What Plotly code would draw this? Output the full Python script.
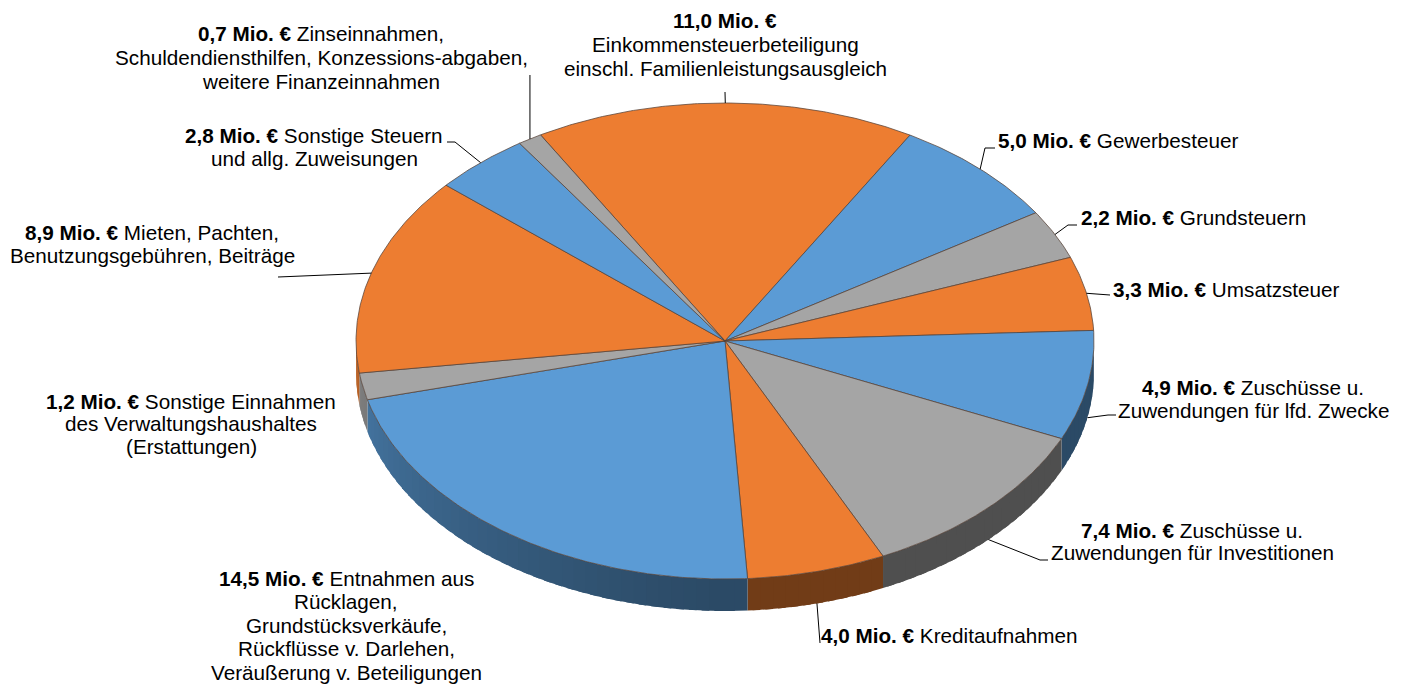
import numpy as np
import plotly.graph_objects as go

# ---------------- data ----------------
values = [11.0, 5.0, 2.2, 3.3, 4.9, 7.4, 4.0, 14.5, 1.2, 8.9, 2.8, 0.7]
descriptions = [
    ["", "Einkommensteuerbeteiligung", "einschl. Familienleistungsausgleich"],
    ["Gewerbesteuer"],
    ["Grundsteuern"],
    ["Umsatzsteuer"],
    ["Zuschüsse u.", "Zuwendungen für lfd. Zwecke"],
    ["Zuschüsse u.", "Zuwendungen für Investitionen"],
    ["Kreditaufnahmen"],
    ["Entnahmen aus", "Rücklagen,", "Grundstücksverkäufe,", "Rückflüsse v. Darlehen,",
     "Veräußerung v. Beteiligungen"],
    ["Sonstige Einnahmen", "des Verwaltungshaushaltes", "(Erstattungen)"],
    ["Mieten, Pachten,", "Benutzungsgebühren, Beiträge"],
    ["Sonstige Steuern", "und allg. Zuweisungen"],
    ["Zinseinnahmen,", "Schuldendiensthilfen, Konzessions-abgaben,", "weitere Finanzeinnahmen"],
]
unit = "Mio. €"
palette = ["#ED7D31", "#5B9BD5", "#A5A5A5"]

# ---------------- style / layout ----------------
W, H = 1406, 684
OFF = 8  # page body margin compensation
cx, cy, rx, ry, depth = 725, 341, 369, 238, 32
rotation = -30.0
font_family = "Liberation Sans, Arial, sans-serif"
font_size = 20.7

# label placement: (x, y of first line, anchor, line spacing)
label_pos = [
    (725, 20, "center", 24),
    (996, 140, "left", 24),
    (1079, 217, "left", 24),
    (1111, 289, "left", 24),
    (1253, 387, "center", 23),
    (1192, 530, "center", 22.5),
    (819, 635, "left", 24),
    (346, 578, "center", 23.5),
    (191, 401, "center", 22.5),
    (152, 232, "center", 23),
    (314, 135, "center", 23),
    (321, 33, "center", 24),
]
# leader line points on the label side (pie side computed from the data)
leader_ends = [
    [(725, 92)],
    [(985, 148), (995, 148)],
    [(1068, 225), (1077, 225)],
    [(1110, 295)],
    [(1108, 415), (1116, 415)],
    [(1040, 560), (1048, 560)],
    [(820, 643)],
    None,
    None,
    [(278, 277)],
    [(455, 142), (447, 142)],
    [(None, 75)],
]


def hex_rgb(h):
    h = h.lstrip("#")
    return tuple(int(h[i:i + 2], 16) for i in (0, 2, 4))


def shade(hexcol, a):
    r, g, b = hex_rgb(hexcol)
    t = max(0.0, (a - 180.0) / 90.0)
    f = 0.48 + 0.32 * t ** 1.2
    return f"rgb({int(r * f)},{int(g * f)},{int(b * f)})"


def rim(a_deg, dy=0.0):
    a = np.radians(a_deg)
    return cx + rx * np.sin(a), cy - ry * np.cos(a) + dy


total = sum(values)
colors = [palette[i % 3] for i in range(len(values))]
starts, ends = [], []
acc = 0.0
for v in values:
    starts.append(rotation + acc / total * 360.0)
    acc += v
    ends.append(rotation + acc / total * 360.0)

fig = go.Figure()

# ---- side walls (front half only), with angular shading ----
for v, a1, a2, col in zip(values, starts, ends, colors):
    lo, hi = max(a1, 90.0), min(a2, 270.0)
    if hi <= lo:
        continue
    n = int(np.ceil((hi - lo) / 2.0))
    edges = np.linspace(lo, hi, n + 1)
    for s, e in zip(edges[:-1], edges[1:]):
        e2 = min(e + 1.2, hi)
        angs = np.linspace(s, e2, 5)
        tx, ty = rim(angs)
        bx, by = rim(angs[::-1], depth)
        xs = np.concatenate([tx, bx, tx[:1]])
        ys = np.concatenate([ty, by, ty[:1]])
        c = shade(col, (s + e) / 2)
        fig.add_trace(go.Scatter(x=xs, y=ys, mode="lines", fill="toself",
                                 fillcolor=c, line=dict(color=c, width=0),
                                 hoverinfo="skip", showlegend=False))

# ---- top surfaces ----
for v, a1, a2, col in zip(values, starts, ends, colors):
    angs = np.linspace(a1, a2, max(8, int((a2 - a1) * 2)))
    ax_, ay_ = rim(angs)
    xs = np.concatenate([[cx], ax_, [cx]])
    ys = np.concatenate([[cy], ay_, [cy]])
    fig.add_trace(go.Scatter(x=xs, y=ys, mode="lines", fill="toself",
                             fillcolor=col,
                             line=dict(color="rgba(85,65,55,0.75)", width=1),
                             hoverinfo="skip", showlegend=False))

# ---- leader lines ----
for v, a1, a2, ends_pts in zip(values, starts, ends, leader_ends):
    if ends_pts is None:
        continue
    mid = (a1 + a2) / 2
    mid_n = mid % 360
    dy = depth if 90 < mid_n < 270 else 0
    px, py = rim(mid, dy)
    xs, ys = [px], [py]
    for (ex, ey) in ends_pts:
        xs.append(px if ex is None else ex)
        ys.append(ey)
    fig.add_trace(go.Scatter(x=xs, y=ys, mode="lines",
                             line=dict(color="#000000", width=1),
                             hoverinfo="skip", showlegend=False))

# ---- labels ----
annotations = []
for v, desc, (lx, ly, anchor, sp) in zip(values, descriptions, label_pos):
    vtxt = f"{v:.1f}".replace(".", ",") + " " + unit
    lines = [f"<b>{vtxt}</b>" + (" " + desc[0] if desc[0] else "")] + desc[1:]
    for k, t in enumerate(lines):
        annotations.append(dict(
            x=lx, y=ly + k * sp, xref="x", yref="y", text=t, showarrow=False,
            xanchor=anchor, yanchor="middle", align=anchor,
            font=dict(family=font_family, size=font_size, color="#000000"),
        ))

fig.update_layout(
    width=W - OFF, height=H - OFF, autosize=False,
    margin=dict(l=0, r=0, t=0, b=0),
    paper_bgcolor="white", plot_bgcolor="white",
    xaxis=dict(range=[OFF, W], visible=False, fixedrange=True),
    yaxis=dict(range=[H, OFF], visible=False, fixedrange=True),
    annotations=annotations,
    showlegend=False,
)

fig.write_html("out.html")
